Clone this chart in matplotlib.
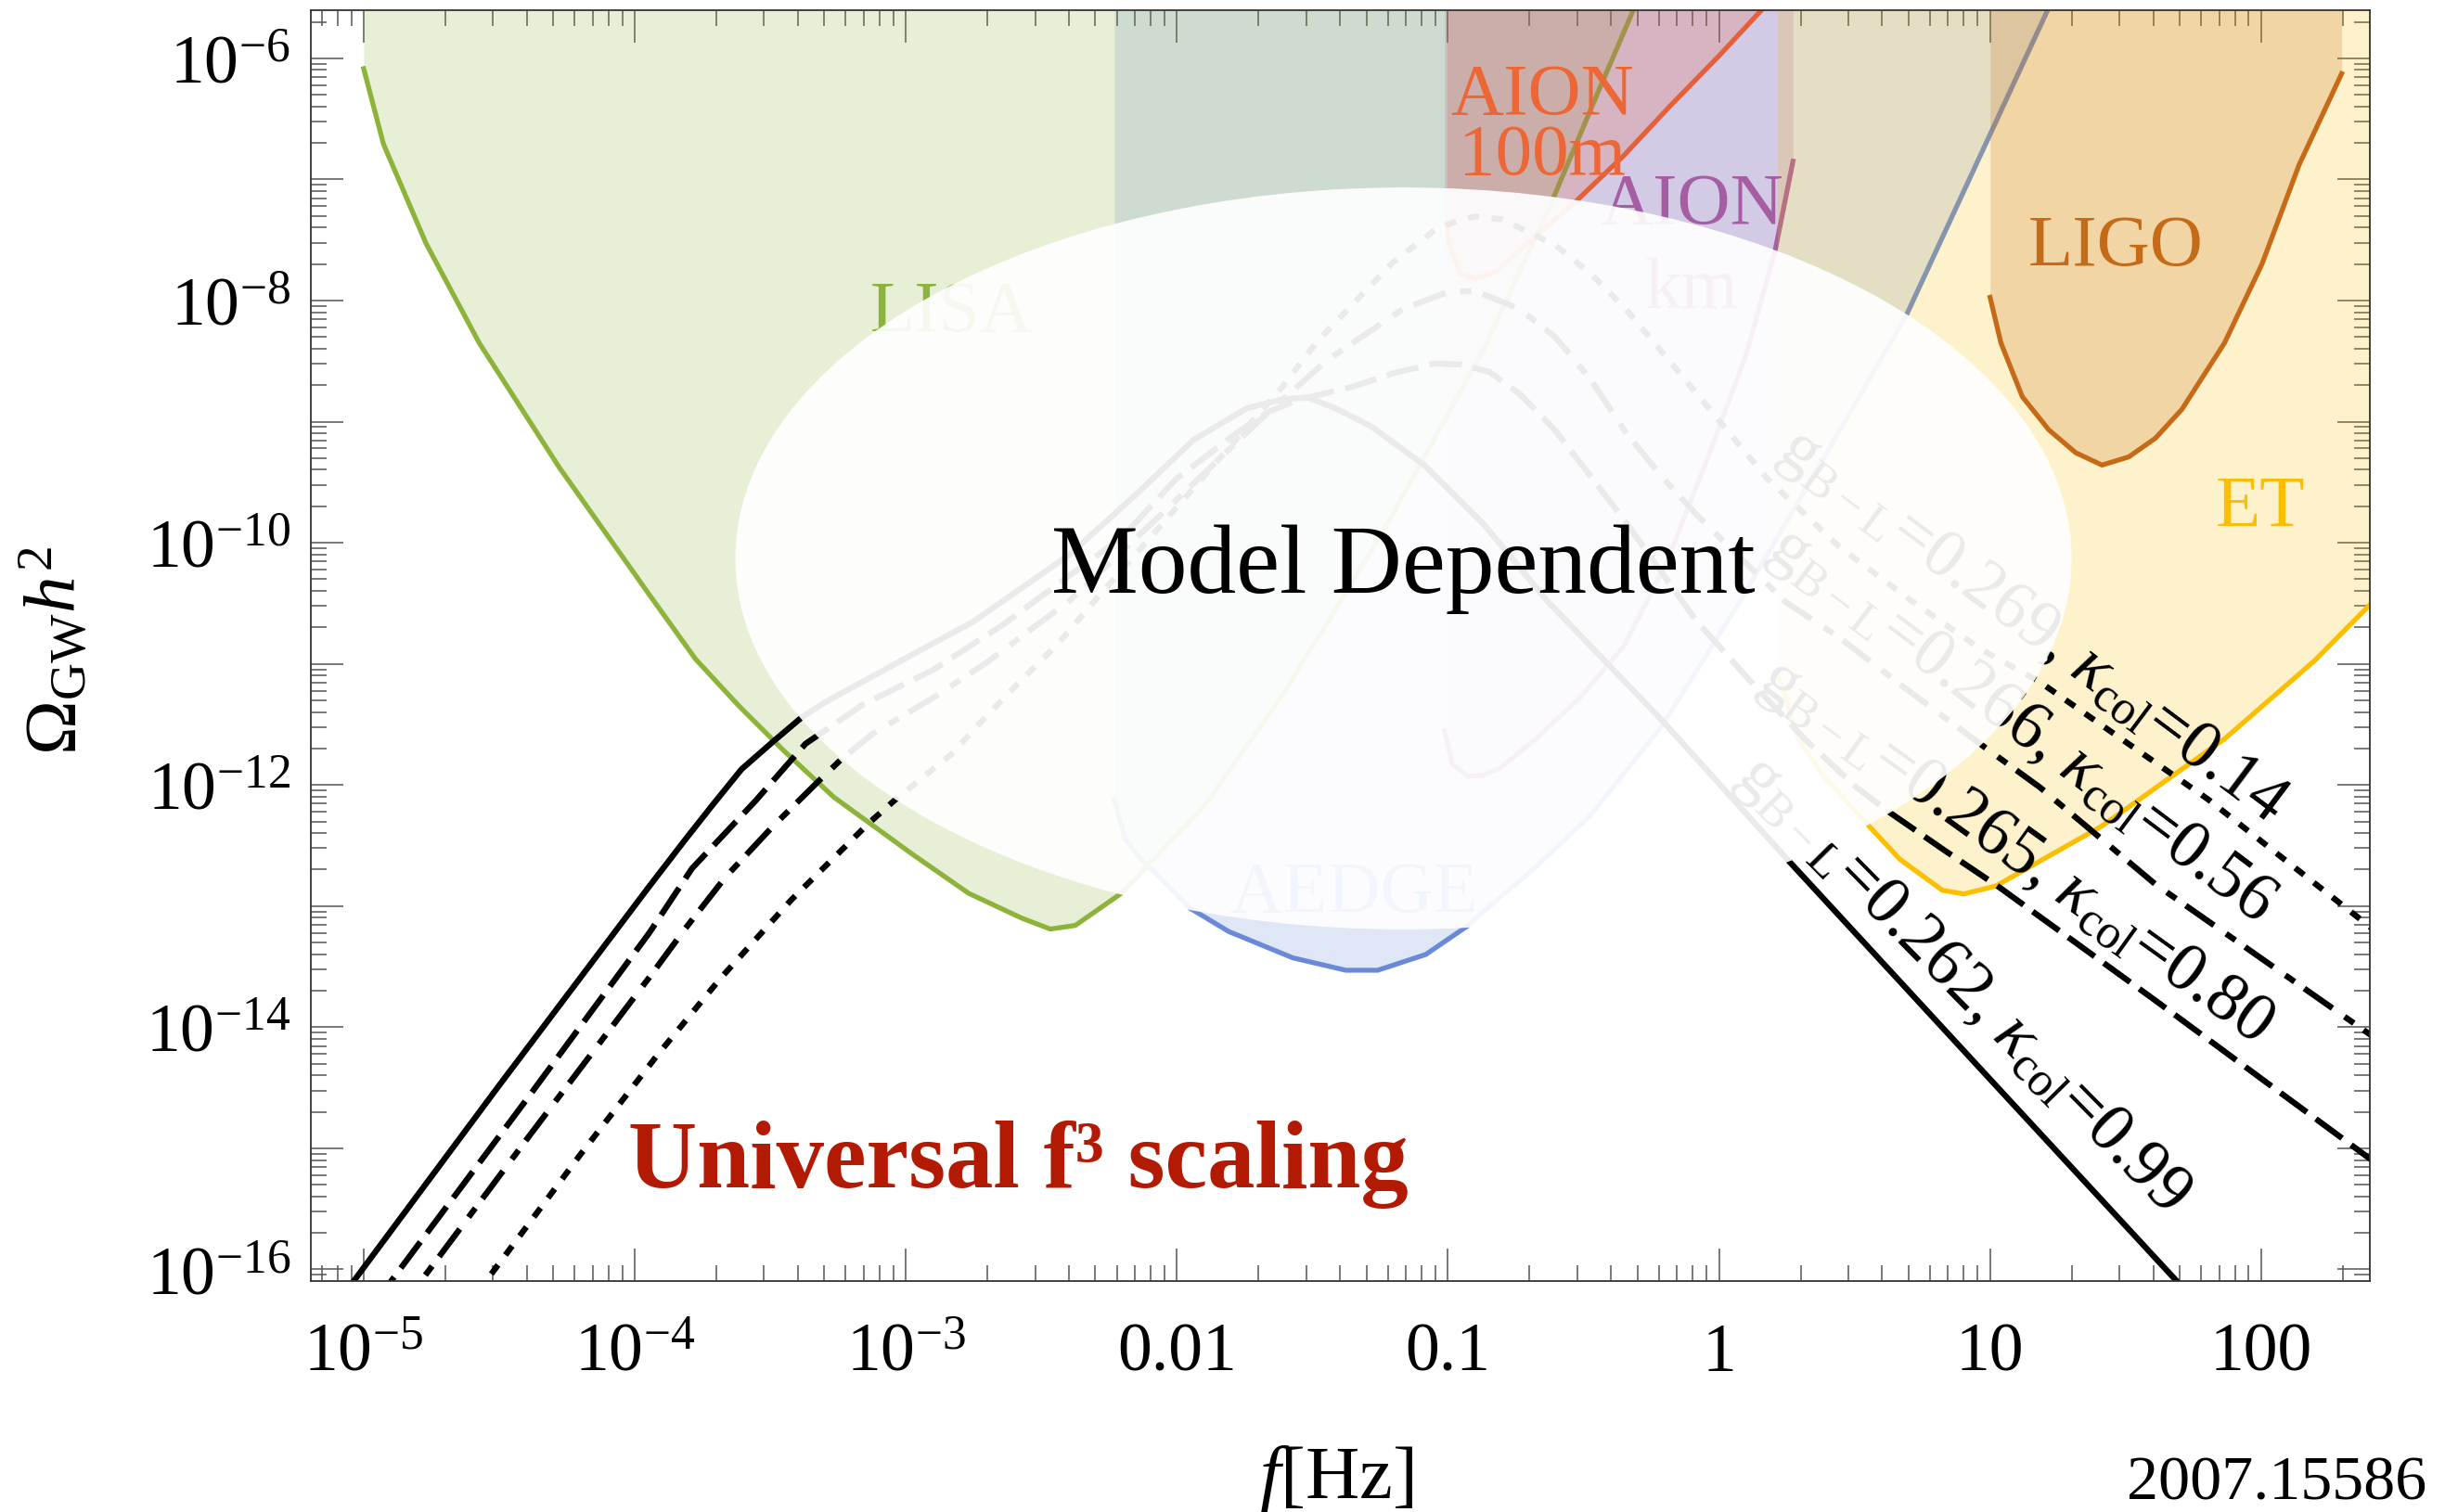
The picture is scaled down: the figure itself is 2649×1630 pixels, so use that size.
import matplotlib
matplotlib.use("Agg")
import matplotlib.pyplot as plt
import numpy as np
from matplotlib.patches import Ellipse
from matplotlib.ticker import LogLocator, NullFormatter

plt.rcParams["font.family"] = ["Liberation Serif", "DejaVu Serif"]
plt.rcParams["mathtext.fontset"] = "custom"
plt.rcParams["mathtext.rm"] = "Liberation Serif"
plt.rcParams["mathtext.it"] = "Liberation Serif:italic"
plt.rcParams["mathtext.bf"] = "Liberation Serif:bold"

# detector sensitivity curves: log10(f/Hz), log10(Omega h^2)
lisa_lf = [-5.0, -4.927, -4.77, -4.574, -4.279, -3.946, -3.776, -3.619, -3.449, -3.266,
           -2.977, -2.768, -2.572, -2.467, -2.375, -2.205, -1.894, -1.611, -1.25, -0.867,
           -0.62, -0.45, -0.306, -0.28]
lisa_lo = [-6.086, -6.709, -7.529, -8.35, -9.377, -10.43, -10.96, -11.34, -11.72, -12.10,
           -12.57, -12.895, -13.10, -13.19, -13.16, -12.895, -12.16, -11.26, -9.95, -8.4,
           -7.2, -6.3, -5.55, -5.4]

aedge_lf = [-2.231, -2.192, -2.13, -2.084, -1.952, -1.809, -1.573, -1.377, -1.259, -1.082,
            -0.925, -0.867, -0.697, -0.474, -0.213, 0.076, 0.311, 0.69, 1.217, 1.25]
aedge_lo = [-12.12, -12.44, -12.62, -12.716, -13.017, -13.21, -13.427, -13.53, -13.53, -13.40,
            -13.16, -13.04, -12.72, -12.25, -11.52, -10.49, -9.593, -8.127, -5.58, -5.45]

aionkm_lf = [-1.013, -0.984, -0.925, -0.867, -0.807, -0.671, -0.513, -0.35, -0.2, -0.05,
             0.1, 0.206, 0.273]
aionkm_lo = [-11.55, -11.83, -11.93, -11.92, -11.86, -11.61, -11.28, -10.85, -10.2, -9.35,
             -8.45, -7.6, -6.85]

aion100_lf = [-1.004, -0.995, -0.956, -0.9, -0.82, -0.709, -0.532, -0.354, -0.183, 0.0,
              0.166, 0.2]
aion100_lo = [-7.36, -7.54, -7.775, -7.82, -7.76, -7.53, -7.19, -6.81, -6.40, -5.98,
              -5.58, -5.5]

et_lf = [0.215, 0.294, 0.376, 0.539, 0.667, 0.824, 0.903, 1.021, 1.413, 1.865, 2.199,
         2.395, 2.45]
et_lo = [-11.07, -11.62, -11.9, -12.305, -12.613, -12.87, -12.90, -12.835, -12.339,
         -11.62, -10.97, -10.526, -10.4]

ligo_lf = [1.0, 1.04, 1.119, 1.217, 1.316, 1.413, 1.512, 1.61, 1.708, 1.865, 2.003,
           2.14, 2.297]
ligo_lo = [-7.974, -8.35, -8.795, -9.069, -9.257, -9.359, -9.291, -9.137, -8.898, -8.35,
           -7.70, -6.88, -6.127]

# GW spectra for the four benchmark points
k099_lf = [-5.25, -4.957, -4.5, -3.946, -3.815, -3.711, -3.606, -3.487, -3.383, -3.292,
           -3.03, -2.75, -2.397, -2.15, -1.938, -1.742, -1.611, -1.519, -1.415, -1.283,
           -1.087, -0.867, -0.63, -0.213, 0.246, 1.0, 1.69, 2.0]
k099_lo = [-16.74, -15.856, -14.48, -12.836, -12.455, -12.16, -11.87, -11.637, -11.44,
           -11.31, -10.99, -10.65, -10.10, -9.6, -9.15, -8.89, -8.816, -8.80, -8.89, -9.04,
           -9.36, -9.85, -10.49, -11.46, -12.60, -14.43, -16.1, -16.85]

k080_lf = [-5.25, -4.9, -4.4, -3.946, -3.789, -3.554, -3.37, -3.161, -2.899, -2.637,
           -2.493, -2.2, -2.004, -1.78, -1.663, -1.546, -1.349, -1.2, -1.048, -0.95,
           -0.847, -0.736, -0.605, -0.474, -0.344, -0.213, -0.082, 0.115, 0.311, 0.507,
           0.625, 0.835, 1.031, 1.61, 2.395, 2.45]
k080_lo = [-17.15, -16.1, -14.6, -13.22, -12.69, -12.13, -11.66, -11.34, -11.05, -10.67,
           -10.43, -9.95, -9.476, -9.094, -8.92, -8.816, -8.71, -8.6, -8.52, -8.53,
           -8.59, -8.77, -9.07, -9.45, -9.83, -10.24, -10.65, -11.14, -11.61, -12.02,
           -12.22, -12.545, -12.84, -13.78, -15.076, -15.17]

k056_lf = [-5.2, -4.79, -4.4, -3.94, -3.815, -3.665, -3.494, -3.318, -3.239, -3.121,
           -2.899, -2.702, -2.493, -2.401, -2.05, -1.7, -1.45, -1.166, -1.0, -0.9,
           -0.736, -0.605, -0.474, -0.344, -0.213, -0.082, 0.049, 0.246, 0.442, 0.704,
           0.981, 1.184, 1.61, 2.395, 2.45]
k056_lo = [-17.33, -16.1, -14.93, -13.57, -13.19, -12.76, -12.35, -11.96, -11.79, -11.575,
           -11.28, -10.99, -10.64, -10.49, -9.75, -9.0, -8.5, -8.07, -7.93, -7.92,
           -8.07, -8.30, -8.65, -9.09, -9.45, -9.77, -10.06, -10.49, -10.78, -11.23,
           -11.69, -12.02, -12.82, -14.05, -14.14]

k014_lf = [-5.0, -4.55, -4.2, -3.92, -3.685, -3.423, -3.134, -3.043, -2.834, -2.702,
           -2.572, -2.441, -2.296, -2.205, -1.9, -1.611, -1.48, -1.205, -1.05, -0.956,
           -0.9, -0.8, -0.605, -0.473, -0.344, -0.082, 0.18, 0.442, 0.704, 0.966, 1.177,
           1.805, 2.395, 2.45]
k014_lo = [-17.45, -16.1, -15.05, -14.24, -13.6, -12.95, -12.31, -12.13, -11.75, -11.43,
           -11.13, -10.84, -10.46, -10.23, -9.45, -8.713, -8.332, -7.69, -7.42, -7.335,
           -7.306, -7.33, -7.54, -7.78, -8.07, -8.77, -9.476, -10.03, -10.47, -10.88,
           -11.14, -12.12, -13.16, -13.26]

curve_labels = [r"g$_{\rm B-L}$=0.262, $\kappa_{\rm col}$=0.99",
                r"g$_{\rm B-L}$=0.265, $\kappa_{\rm col}$=0.80",
                r"g$_{\rm B-L}$=0.266, $\kappa_{\rm col}$=0.56",
                r"g$_{\rm B-L}$=0.269, $\kappa_{\rm col}$=0.14"]
label_lf = [0.895, 1.092, 1.113, 1.154]
label_lo = [-13.649, -12.552, -11.508, -10.687]
label_rot = [-45.4, -35.7, -37.0, -36.8]

x_ticks = [1e-5, 1e-4, 1e-3, 1e-2, 1e-1, 1, 10, 100]
x_ticklabels = [r"$10^{-5}$", r"$10^{-4}$", r"$10^{-3}$", "0.01", "0.1", "1", "10", "100"]
y_exps = list(range(-16, -5))

fig = plt.figure(figsize=(26.49, 16.31), dpi=100)
ax = fig.add_axes([0.12635, 0.15267, 0.83767, 0.83967])
ax.set_xscale("log")
ax.set_yscale("log")

top = 1e-4


def detector(lf, lo, color, z, alpha=0.2):
    f = 10.0 ** np.array(lf)
    om = 10.0 ** np.array(lo)
    ax.fill_between(f, om, top, color=color, alpha=alpha, lw=0, zorder=z)
    ax.plot(f, om, color=color, lw=3.8, zorder=z + 0.5)


detector(aedge_lf, aedge_lo, "#6a8ad8", 1, alpha=0.21)
detector(lisa_lf, lisa_lo, "#8db33a", 2)
detector(aionkm_lf, aionkm_lo, "#a65ea3", 3)
detector(aion100_lf, aion100_lo, "#e4603a", 4)
detector(et_lf, et_lo, "#fbbf00", 5)
detector(ligo_lf, ligo_lo, "#c56b18", 6, alpha=0.21)

# detector names
det_font = 57
ax.text(10 ** -2.831, 10 ** -8.247, "LISA", color="#8db33a", fontsize=det_font,
        ha="center", va="baseline", zorder=8)
ax.text(10 ** -1.346, 10 ** -13.04, "AEDGE", color="#6a8ad8", fontsize=det_font,
        ha="center", va="baseline", zorder=8)
ax.text(10 ** -0.652, 10 ** -6.454, "AION", color="#ec6636", fontsize=det_font,
        ha="center", va="baseline", zorder=8)
ax.text(10 ** -0.652, 10 ** -6.948, "100m", color="#ec6636", fontsize=det_font,
        ha="center", va="baseline", zorder=8)
ax.text(10 ** -0.101, 10 ** -7.358, "AION", color="#a65ea3", fontsize=det_font,
        ha="center", va="baseline", zorder=8)
ax.text(10 ** -0.101, 10 ** -8.06, "km", color="#a65ea3", fontsize=det_font,
        ha="center", va="baseline", zorder=8)
ax.text(10 ** 1.463, 10 ** -7.703, "LIGO", color="#c56b18", fontsize=det_font,
        ha="center", va="baseline", zorder=8)
ax.text(10 ** 1.997, 10 ** -9.856, "ET", color="#fbbf00", fontsize=det_font,
        ha="center", va="baseline", zorder=8)

# benchmark spectra
lw_sig = 4.6
ax.plot(10.0 ** np.array(k099_lf), 10.0 ** np.array(k099_lo), color="black", lw=lw_sig,
        zorder=7)
ax.plot(10.0 ** np.array(k080_lf), 10.0 ** np.array(k080_lo), color="black", lw=lw_sig,
        ls=(0, (5.5, 1.9)), zorder=7)
ax.plot(10.0 ** np.array(k056_lf), 10.0 ** np.array(k056_lo), color="black", lw=lw_sig,
        ls=(0, (5.8, 2.5, 1.9, 2.0)), zorder=7)
ax.plot(10.0 ** np.array(k014_lf), 10.0 ** np.array(k014_lo), color="black", lw=lw_sig,
        ls=(0, (1.9, 2.1)), zorder=7)

for txt, lf, lo, rot in zip(curve_labels, label_lf, label_lo, label_rot):
    ax.text(10 ** lf, 10 ** lo, txt, fontsize=53, rotation=rot, rotation_mode="anchor",
            ha="center", va="center", zorder=8)

# translucent disk over the model dependent region
ax.add_patch(Ellipse((0.5308, 0.5688), 0.649, 0.584, transform=ax.transAxes,
                     facecolor="white", edgecolor="none", alpha=0.92, zorder=10))
ax.text(0.5306, 0.5425, "Model Dependent", transform=ax.transAxes, fontsize=76,
        ha="center", va="baseline", zorder=11)
ax.text(0.3437, 0.0748, "Universal f³ scaling", transform=ax.transAxes, fontsize=74,
        fontweight="bold", color="#b31a04", ha="center", va="baseline", zorder=11)

# frame and ticks
for sp in ax.spines.values():
    sp.set_color("#333333")
    sp.set_linewidth(1.3)
    sp.set_zorder(12)

ax.set_xticks(x_ticks)
ax.set_xticklabels(x_ticklabels)
ax.xaxis.set_minor_locator(LogLocator(base=10, subs=np.arange(2, 10), numticks=50))
ax.xaxis.set_minor_formatter(NullFormatter())
ax.set_yticks([10.0 ** e for e in y_exps])
ax.set_yticklabels([r"$10^{%d}$" % e if e % 2 == 0 else "" for e in y_exps])
ax.yaxis.set_minor_locator(LogLocator(base=10, subs=np.arange(2, 10), numticks=50))
ax.yaxis.set_minor_formatter(NullFormatter())

# limits last so the tick lists cannot widen them
ax.set_xlim(10 ** -5.196, 10 ** 2.40)
ax.set_ylim(10 ** -16.096, 10 ** -5.607)

ax.tick_params(which="both", direction="in", top=True, right=True, color="#555555",
               width=1.1, labelsize=53, zorder=12)
ax.tick_params(which="major", length=25)
ax.tick_params(which="minor", length=12)
ax.tick_params(axis="x", which="major", pad=69)
ax.tick_params(axis="y", which="major", pad=15.6)
for t in ax.xaxis.get_major_ticks():
    t.label1.set_verticalalignment("baseline")

fig.text(60 / 2649, 1 - 701 / 1631, r"$\Omega_{\rm GW}h^2$", rotation=90, fontsize=57,
         ha="center", va="center")
fig.text(1440 / 2649, 16 / 1631, r"$f$[Hz]", fontsize=58, ha="center", va="baseline")
fig.text(2615 / 2649, 14 / 1631, "2007.15586", fontsize=49, ha="right", va="baseline")

fig.savefig("out.png", dpi=100)
